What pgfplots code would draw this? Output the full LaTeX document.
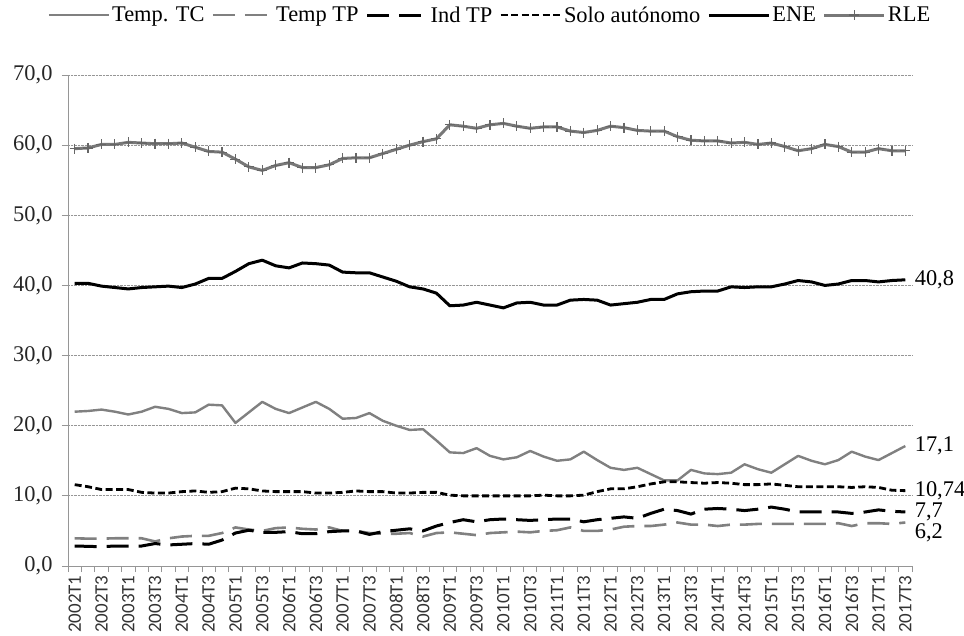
\documentclass[border=0pt]{standalone}
\usepackage{pgfplots}
\usepackage{pgfplotstable}
\pgfplotsset{compat=1.18}
\usepackage{fontspec}
\setmainfont{Liberation Serif}
\newfontfamily\calib{Carlito}
\definecolor{lgray}{RGB}{128,128,128}
\definecolor{mgray}{RGB}{120,120,120}
\definecolor{grid}{RGB}{150,150,150}

\pgfplotstableread{
i rle ene tc solo ttp itp
0 59.5 40.3 22.0 11.6 3.95 2.85
1 59.6 40.3 22.1 11.3 3.9 2.8
2 60.1 39.9 22.3 10.9 3.9 2.75
3 60.1 39.7 22.0 10.9 3.95 2.85
4 60.4 39.5 21.6 10.9 3.95 2.85
5 60.3 39.7 22.0 10.5 3.95 2.85
6 60.2 39.8 22.7 10.4 3.5 3.2
7 60.2 39.9 22.4 10.4 3.95 3.0
8 60.3 39.7 21.8 10.6 4.2 3.1
9 59.7 40.2 21.9 10.7 4.3 3.2
10 59.1 41.0 23.0 10.5 4.3 3.1
11 59.0 41.0 22.9 10.6 4.7 3.7
12 58.0 42.0 20.4 11.1 5.5 4.7
13 56.9 43.1 21.9 11.0 5.2 5.1
14 56.4 43.6 23.4 10.7 5.0 4.8
15 57.1 42.8 22.4 10.6 5.4 4.8
16 57.5 42.5 21.8 10.6 5.5 4.9
17 56.8 43.2 22.6 10.6 5.3 4.6
18 56.8 43.1 23.4 10.4 5.2 4.6
19 57.2 42.9 22.4 10.4 5.5 4.9
20 58.1 41.9 21.0 10.5 5.0 5.0
21 58.2 41.8 21.1 10.7 5.0 5.0
22 58.2 41.8 21.8 10.6 4.7 4.5
23 58.8 41.2 20.7 10.6 4.6 4.9
24 59.4 40.6 20.0 10.4 4.6 5.1
25 60.0 39.8 19.4 10.4 4.7 5.3
26 60.5 39.5 19.5 10.5 4.2 5.0
27 60.9 38.9 17.9 10.5 4.7 5.7
28 62.9 37.1 16.2 10.1 4.8 6.2
29 62.7 37.2 16.1 10.0 4.6 6.6
30 62.4 37.6 16.8 10.0 4.4 6.3
31 62.9 37.2 15.7 10.0 4.7 6.6
32 63.1 36.8 15.2 10.0 4.8 6.7
33 62.7 37.5 15.5 10.0 4.9 6.6
34 62.4 37.6 16.4 10.0 4.8 6.5
35 62.6 37.2 15.6 10.1 5.0 6.6
36 62.6 37.2 15.0 10.0 5.1 6.7
37 62.0 37.9 15.2 10.0 5.5 6.7
38 61.8 38.0 16.3 10.1 5.0 6.3
39 62.1 37.9 15.1 10.6 5.0 6.6
40 62.7 37.2 14.0 11.0 5.2 6.8
41 62.5 37.4 13.7 11.0 5.6 7.0
42 62.1 37.6 14.0 11.3 5.7 6.8
43 62.0 38.0 13.1 11.7 5.7 7.5
44 62.0 38.0 12.2 12.0 5.9 8.1
45 61.2 38.8 12.2 12.0 6.2 7.9
46 60.7 39.1 13.7 11.9 5.9 7.4
47 60.6 39.2 13.2 11.8 5.9 8.1
48 60.6 39.2 13.1 11.9 5.7 8.2
49 60.3 39.8 13.3 11.8 5.9 8.1
50 60.4 39.7 14.5 11.6 5.9 7.9
51 60.1 39.8 13.8 11.6 6.0 8.1
52 60.3 39.8 13.3 11.7 6.0 8.4
53 59.8 40.2 14.5 11.5 6.0 8.1
54 59.2 40.7 15.7 11.3 6.0 7.7
55 59.5 40.5 15.0 11.3 6.0 7.7
56 60.1 40.0 14.5 11.3 6.0 7.7
57 59.8 40.2 15.1 11.3 6.1 7.7
58 59.0 40.7 16.3 11.2 5.7 7.5
59 59.0 40.7 15.6 11.3 6.1 7.7
60 59.5 40.5 15.1 11.2 6.1 8.0
61 59.2 40.7 16.1 10.8 6.0 7.8
62 59.2 40.8 17.1 10.74 6.2 7.7
}\data

\begin{document}
\begin{tikzpicture}
\begin{axis}[
  scale only axis, width=844bp, height=491bp,
  xmin=-0.5, xmax=62.5, ymin=0, ymax=70,
  clip=false,
  axis x line*=bottom, axis y line*=left,
  axis line style={-, draw=grid, line width=0.8bp},
  x axis line style={-}, y axis line style={-},
  tick align=outside,
  major tick length=6bp, minor tick length=6bp,
  xtick={0,2,...,62},
  xticklabels={2002T1,2002T3,2003T1,2003T3,2004T1,2004T3,2005T1,2005T3,2006T1,2006T3,2007T1,2007T3,2008T1,2008T3,2009T1,2009T3,2010T1,2010T3,2011T1,2011T3,2012T1,2012T3,2013T1,2013T3,2014T1,2014T3,2015T1,2015T3,2016T1,2016T3,2017T1,2017T3},
  minor xtick={-0.5,0.5,...,62.5},
  major x tick style={draw=none},
  minor x tick style={draw=grid, line width=0.8bp},
  ytick={0,10,...,70},
  y tick style={draw=grid, line width=0.8bp},
  xticklabel style={rotate=90, anchor=east, font=\calib\fontsize{19}{19}\selectfont, text=black!80},
  yticklabel style={font=\fontsize{22.5}{24}\selectfont, text=black!85, xshift=-6bp,
    /pgf/number format/fixed, /pgf/number format/fixed zerofill,
    /pgf/number format/precision=1, /pgf/number format/use comma},
  /pgf/number format/assume math mode=true,
  ymajorgrids,
  grid style={densely dotted, draw=grid, line width=0.8bp},
  legend columns=6,
  legend style={at={(0.5,1.122)}, anchor=center, draw=none, fill=none,
    font=\fontsize{22.5}{24}\selectfont, inner sep=0pt,
    /tikz/every even column/.append style={column sep=5bp}},
  legend image code/.code={\draw[mark repeat=2,mark phase=2,#1] plot coordinates {(0bp,0bp) (30bp,0bp) (60bp,0bp)};},
  every axis plot/.append style={line join=round},
]
\addplot[draw=lgray, line width=2.4bp] table[x=i,y=tc]{\data};
\addlegendentry{Temp. TC}
\addplot[draw=lgray, line width=2.6bp, dash pattern=on 22bp off 10bp] table[x=i,y=ttp]{\data};
\addlegendentry{Temp TP}
\addplot[draw=black, line width=3bp, dash pattern=on 22bp off 10bp] table[x=i,y=itp]{\data};
\addlegendentry{Ind TP}
\addplot[draw=black, line width=2.8bp, dash pattern=on 7bp off 3.5bp] table[x=i,y=solo]{\data};
\addlegendentry{Solo autónomo}
\addplot[draw=black, line width=3bp] table[x=i,y=ene]{\data};
\addlegendentry{ENE}
\addplot[draw=mgray, line width=3bp, mark=+, mark size=5bp, mark options={solid, line width=1.2bp, draw=mgray!85!black}] table[x=i,y=rle]{\data};
\addlegendentry{RLE}

\node[anchor=west, xshift=6bp, font=\fontsize{22.5}{24}\selectfont] at (axis cs:62,40.8) {40,8};
\node[anchor=west, xshift=6bp, font=\fontsize{22.5}{24}\selectfont] at (axis cs:62,17.1) {17,1};
\node[anchor=west, xshift=6bp, font=\fontsize{22.5}{24}\selectfont] at (axis cs:62,10.74) {10,74};
\node[anchor=west, xshift=6bp, font=\fontsize{22.5}{24}\selectfont] at (axis cs:62,7.7) {7,7};
\node[anchor=west, xshift=6bp, font=\fontsize{22.5}{24}\selectfont] at (axis cs:62,4.75) {6,2};
\coordinate (O) at (rel axis cs:0,0);
\end{axis}
\pgfresetboundingbox
\path ([shift={(-68bp,-70bp)}]O) rectangle ++(964bp,636bp);
\end{tikzpicture}
\end{document}
